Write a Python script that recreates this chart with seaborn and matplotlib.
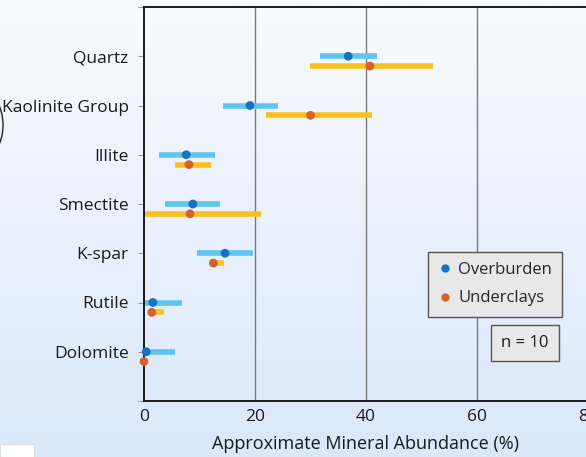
import numpy as np
import pandas as pd
import matplotlib
matplotlib.use("Agg")
import matplotlib.pyplot as plt
import seaborn as sns
from matplotlib.patches import Rectangle, Arc
from matplotlib.lines import Line2D

minerals = ["Quartz", "Kaolinite Group", "Illite", "Smectite", "K-spar", "Rutile", "Dolomite"]
over_mean = [36.8, 19.1, 7.6, 8.8, 14.6, 1.6, 0.4]
over_low = [31.8, 14.2, 2.7, 3.8, 9.5, 0.0, 0.0]
over_high = [41.9, 24.1, 12.8, 13.7, 19.6, 6.8, 5.5]
under_mean = [40.7, 30.0, 8.1, 8.3, 12.5, 1.4, 0.0]
under_low = [29.9, 21.9, 5.6, 0.0, 12.0, 1.4, 0.0]
under_high = [52.0, 41.0, 12.0, 21.1, 14.5, 3.6, 0.0]
x_ticks = [0, 20, 40, 60, 80]

font = "Open Sans"
sns.set_theme(style="white")
plt.rcParams["font.family"] = [font, "DejaVu Sans"]

W, H = 586, 457
fig = plt.figure(figsize=(W / 100, H / 100), dpi=100)

# background gradient
bg = fig.add_axes([0, 0, 1, 1], zorder=-10)
grad = np.linspace(0, 1, 256).reshape(-1, 1)
top = np.array([0xf8, 0xfa, 0xfe]) / 255
bot = np.array([0xdb, 0xe8, 0xfa]) / 255
img = top[None, None, :] * (1 - grad[:, :, None]) + bot[None, None, :] * grad[:, :, None]
bg.imshow(img, aspect="auto", extent=[0, 1, 0, 1])
bg.set_xlim(0, 1); bg.set_ylim(0, 1)
bg.axis("off")
bg.add_patch(Rectangle((0, 0), 34 / W, 13 / H, facecolor="white", edgecolor="#d8dce4", lw=0.8))
bg.add_patch(Arc((-20 / W, 1 - 125 / H), 46 / W, 70 / H, theta1=-75, theta2=75,
                 color="#222222", lw=1.0))

left, right, topy, boty = 144, 588, 7, 401
ax = fig.add_axes([left / W, 1 - boty / H, (right - left) / W, (boty - topy) / H])
ax.set_facecolor("none")

n = len(minerals)
pos = np.arange(n)
off = 0.2
df_o = pd.DataFrame({"mineral": minerals, "y": pos, "val": over_mean, "group": "Overburden"})
df_u = pd.DataFrame({"mineral": minerals, "y": pos + off, "val": under_mean, "group": "Underclays"})
df = pd.concat([df_o, df_u], ignore_index=True)

for x in [20, 40, 60]:
    ax.axvline(x, color="#7a7a7a", lw=1.0, zorder=1)

ax.hlines(pos, over_low, over_high, color="#5ec4f0", lw=4.0, zorder=2)
ax.hlines(pos + off, under_low, under_high, color="#fcbf1c", lw=4.0, zorder=2)

sns.scatterplot(data=df, x="val", y="y", hue="group",
                palette={"Overburden": "#1872c2", "Underclays": "#d4622c"},
                s=40, edgecolor="none", ax=ax, zorder=3, legend=False, clip_on=False)

ax.set_xlim(0, 80)
ax.set_ylim(n, -1)
ax.set_xticks(x_ticks)
ax.set_xticklabels([str(t) for t in x_ticks], fontsize=12.5, color="#1a1a1a")
ax.set_yticks(list(range(-1, n + 1)))
ax.set_yticklabels([""] + minerals + [""], fontsize=12.5, color="#1a1a1a")
ax.tick_params(axis="y", length=4, width=0.8, color="#999999", pad=7, left=True)
ax.tick_params(axis="x", length=0, pad=6)
ax.set_xlabel("Approximate Mineral Abundance (%)", fontsize=13, color="#1a1a1a", labelpad=7)
ax.set_ylabel("")
for s in ["left", "bottom", "top"]:
    ax.spines[s].set_visible(True)
    ax.spines[s].set_color("#1a1a1a")
    ax.spines[s].set_linewidth(1.4)
ax.spines["right"].set_visible(False)

handles = [Line2D([], [], marker="o", ls="none", color="#1872c2", markersize=5),
           Line2D([], [], marker="o", ls="none", color="#d4622c", markersize=5)]
leg = fig.legend(handles, ["Overburden", "Underclays"], loc="upper left",
                 bbox_to_anchor=(428 / W, 1 - 252 / H), fontsize=12, frameon=True,
                 fancybox=False, framealpha=1, handletextpad=0.4, handlelength=0.8,
                 borderpad=0.6, labelspacing=0.75, borderaxespad=0)
leg.get_frame().set_facecolor("#e8e8e8")
leg.get_frame().set_edgecolor("#555555")
leg.get_frame().set_linewidth(1.0)

fig.text(525 / W, 1 - 343 / H, "n = 10", ha="center", va="center", fontsize=12, color="#1a1a1a",
         bbox=dict(boxstyle="square,pad=0.6", facecolor="#e8e8e8", edgecolor="#555555", lw=1.0))

fig.savefig("out.png", dpi=100)
